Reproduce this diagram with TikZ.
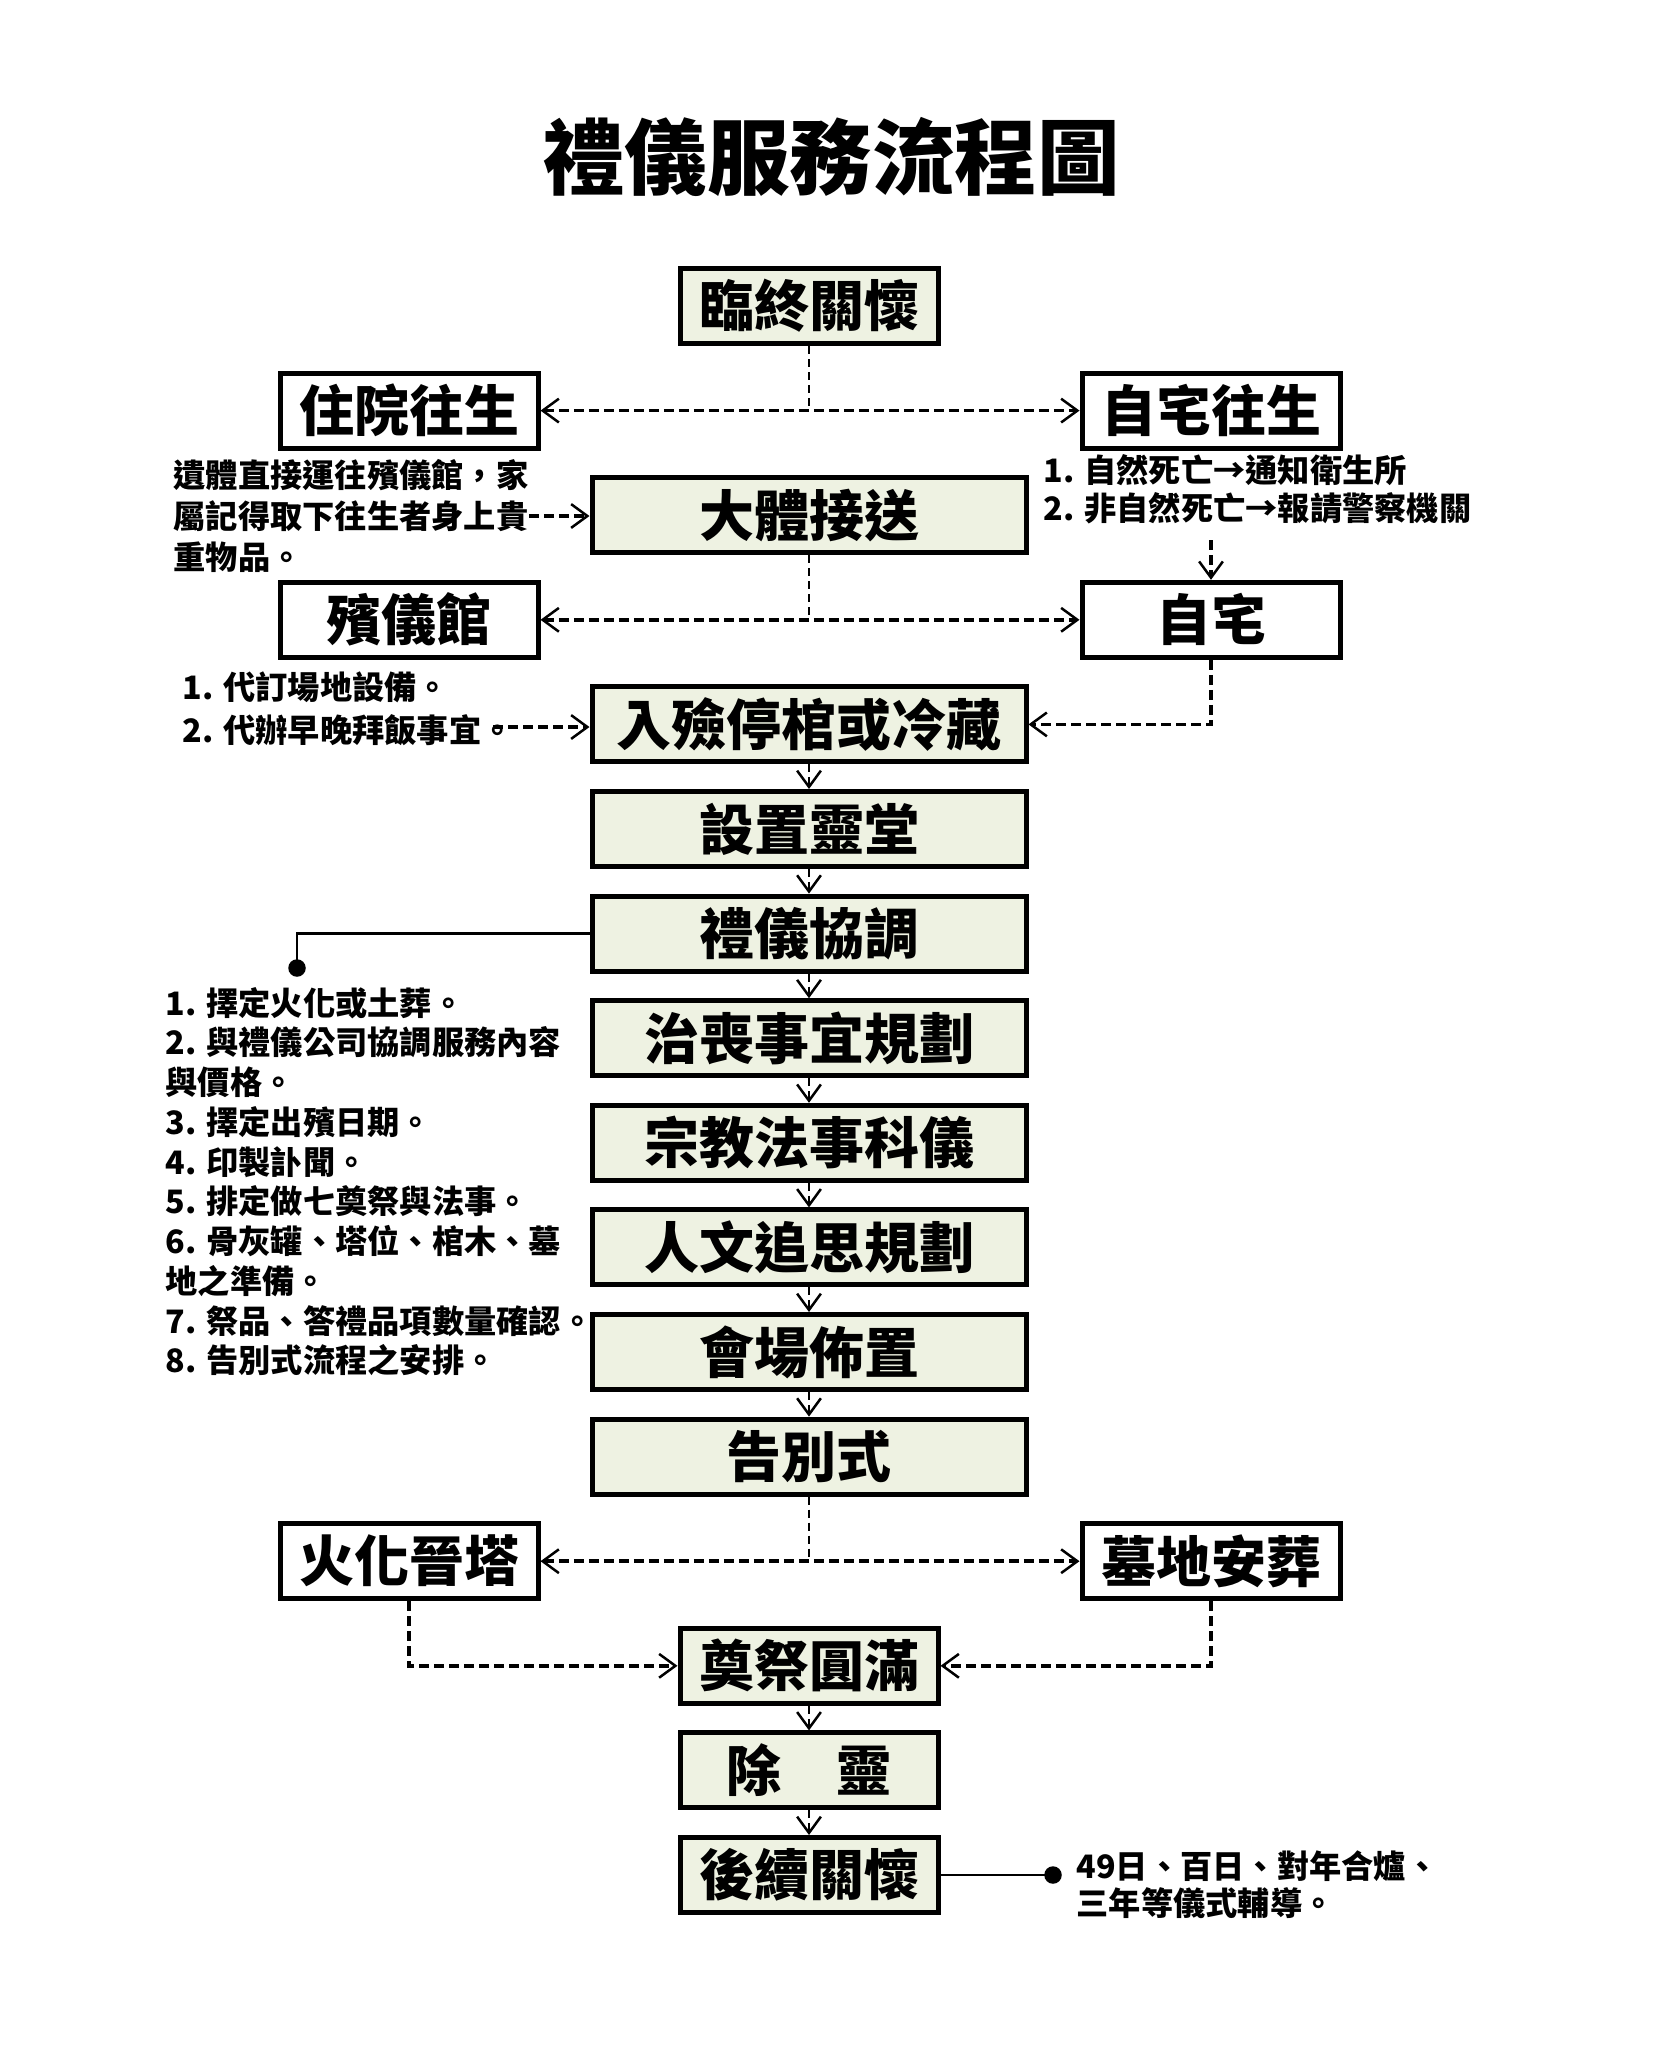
\documentclass[tikz,border=0pt]{standalone}
\usepackage{fontspec}
\setmainfont{Noto Sans CJK TC}[BoldFont={Noto Sans CJK TC Black}]
\usetikzlibrary{arrows.meta}
\definecolor{boxfill}{RGB}{238,242,226}
\begin{document}
\begin{tikzpicture}[x=0.4pt,y=-0.4pt,
  >={Straight Barb[length=6.5pt,width=9.5pt,line width=1pt]},
  box/.style={draw=black,line width=2pt,inner sep=0pt,minimum height=30pt,
    font=\bfseries\fontsize{22}{22}\selectfont},
  nbox/.style={box,minimum width=103.2pt},
  wbox/.style={box,minimum width=173.6pt},
  gbox/.style={fill=boxfill},
  wbg/.style={fill=white},
  vdash/.style={line width=0.8pt,dash pattern=on 3.2pt off 2pt},
  hdash/.style={line width=1.4pt,dash pattern=on 4pt off 2pt},
  solidline/.style={line width=1.1pt},
  note/.style={anchor=west,align=left,inner sep=0pt,font=\bfseries\fontsize{12.9}{#1}\selectfont},
  dot/.style={circle,fill=black,inner sep=0pt,minimum size=7pt},
  titlestyle/.style={font=\bfseries\fontsize{33}{33}\selectfont}
]
\fill[white] (0,0) rectangle (1654,2046);
\useasboundingbox (0,0) rectangle (1654,2046);

\node[titlestyle] (title) at (831,157) {禮儀服務流程圖};

% boxes
\node[nbox,gbox] (lz)  at (809,306)    {臨終關懷};
\node[nbox,wbg]  (zy)  at (409,410.6)  {住院往生};
\node[nbox,wbg]  (zz)  at (1211,410.6) {自宅往生};
\node[wbox,gbox] (dt)  at (809,515.2)  {大體接送};
\node[nbox,wbg]  (byg) at (409,619.8)  {殯儀館};
\node[nbox,wbg]  (zh)  at (1211,619.8) {自宅};
\node[wbox,gbox] (rl)  at (809,724.4)  {入殮停棺或冷藏};
\node[wbox,gbox] (sz)  at (809,829)    {設置靈堂};
\node[wbox,gbox] (ly)  at (809,933.6)  {禮儀協調};
\node[wbox,gbox] (zs)  at (809,1038.2) {治喪事宜規劃};
\node[wbox,gbox] (zj)  at (809,1142.8) {宗教法事科儀};
\node[wbox,gbox] (rw)  at (809,1247.4) {人文追思規劃};
\node[wbox,gbox] (hc)  at (809,1352)   {會場佈置};
\node[wbox,gbox] (gb)  at (809,1456.6) {告別式};
\node[nbox,wbg]  (hh)  at (409,1561.2) {火化晉塔};
\node[nbox,wbg]  (md)  at (1211,1561.2){墓地安葬};
\node[nbox,gbox] (dj)  at (809,1665.8) {奠祭圓滿};
\node[nbox,gbox] (cl)  at (809,1770.4) {除　靈};
\node[nbox,gbox] (hx)  at (809,1875)   {後續關懷};

% notes
\node[note=16.4pt] (t1) at (173,516) {遺體直接運往殯儀館，家\\屬記得取下往生者身上貴\\重物品。};
\node[note=15.2pt] (t2) at (1043,489) {1. 自然死亡→通知衛生所\\2. 非自然死亡→報請警察機關};
\node[note=17.2pt] (t3) at (182,708.5) {1. 代訂場地設備。\\2. 代辦早晚拜飯事宜。};
\node[note=15.9pt] (t4) at (165,1181.5) {1. 擇定火化或土葬。\\2. 與禮儀公司協調服務內容\\與價格。\\3. 擇定出殯日期。\\4. 印製訃聞。\\5. 排定做七奠祭與法事。\\6. 骨灰罐、塔位、棺木、墓\\地之準備。\\7. 祭品、答禮品項數量確認。\\8. 告別式流程之安排。};
\node[note=14.8pt] (t5) at (1076,1884.5) {49日、百日、對年合爐、\\三年等儀式輔導。};

% helper coordinates
\coordinate (c2) at (1211,540);
\coordinate (t3e) at (493,727);
\node[dot] (d1) at (297,968) {};
\node[dot] (d2) at (1053,1875) {};

% top split
\draw[vdash] (lz.south) -- (lz.south |- zy.east);
\draw[hdash,<->] (zy.east) -- (zz.west);
% second split
\draw[vdash] (dt.south) -- (dt.south |- byg.east);
\draw[hdash,<->] (byg.east) -- (zh.west);
% notes to boxes
\draw[hdash,->] (t1.east) -- (t1.east -| dt.west);
\draw[hdash,->] (c2) -- (zh.north);
\draw[hdash,->] (t3e) -- (t3e -| rl.west);
\draw[hdash,->] (zh.south) |- (rl.east);
% chain
\foreach \a/\b in {rl/sz,sz/ly,ly/zs,zs/zj,zj/rw,rw/hc,hc/gb,dj/cl,cl/hx}
  \draw[vdash,->] (\a.south) -- (\b.north);
% coordination list
\draw[solidline] (ly.west) -| (d1.center);
% final split
\draw[vdash] (gb.south) -- (gb.south |- hh.east);
\draw[hdash,<->] (hh.east) -- (md.west);
\draw[hdash,->] (hh.south) |- (dj.west);
\draw[hdash,->] (md.south) |- (dj.east);
% follow-up
\draw[solidline] (hx.east) -- (d2.center);
\end{tikzpicture}
\end{document}
